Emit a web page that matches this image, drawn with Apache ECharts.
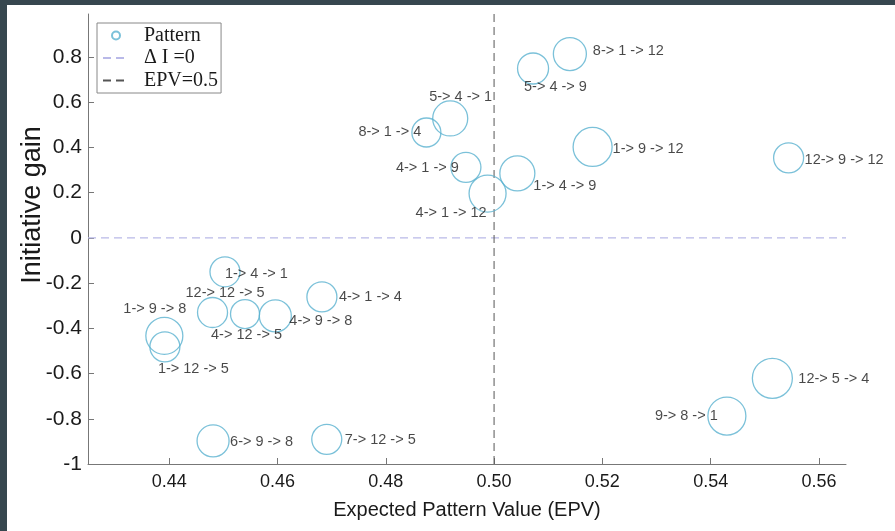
<!DOCTYPE html>
<html><head><meta charset="utf-8">
<script src="https://cdn.jsdelivr.net/npm/echarts@6/dist/echarts.min.js"></script>
<style>
html,body{margin:0;padding:0;background:#37474f;width:895px;height:531px;overflow:hidden}
#c{position:absolute;left:7px;top:5px;width:888px;height:526px;background:#fff}
</style></head><body><div id="c"></div>
<script>
// ---- data ----
const patterns = ['8-> 1 -> 12','5-> 4 -> 9','5-> 4 -> 1','8-> 1 -> 4','4-> 1 -> 9','4-> 1 -> 12','1-> 4 -> 9','1-> 9 -> 12','12-> 9 -> 12','1-> 4 -> 1','12-> 12 -> 5','4-> 12 -> 5','4-> 9 -> 8','4-> 1 -> 4','1-> 9 -> 8','1-> 12 -> 5','6-> 9 -> 8','7-> 12 -> 5','9-> 8 -> 1','12-> 5 -> 4'];
const epv  = [0.5140,0.5072,0.4919,0.4875,0.4948,0.4988,0.5043,0.5182,0.5544,0.4503,0.4480,0.4540,0.4596,0.4682,0.4391,0.4392,0.4481,0.4691,0.5430,0.5514];
const gain = [0.813,0.749,0.528,0.466,0.312,0.196,0.285,0.402,0.354,-0.150,-0.330,-0.337,-0.345,-0.261,-0.433,-0.482,-0.898,-0.891,-0.788,-0.621];
const bubble = [33,31,35,29,30,37,35,39,30,30,30,29,32,30,37,30,32,30,38,40];
const xTicks = [0.44,0.46,0.48,0.50,0.52,0.54,0.56];
const yTicks = [-1,-0.8,-0.6,-0.4,-0.2,0,0.2,0.4,0.6,0.8];
const zeroGain = 0;
const epvRef = 0.5;

// ---- label placement (layout only) ----
const labelOffsets = [[23,-3],[-9,19],[-21,-21],[-68,0],[-70,1],[-72,19],[16,13],[20,2],[16,2],[0,2],[-27,-19],[-34,21],[14,5],[17,0],[-41,-27],[-7,22],[17,1],[18,1],[-72,0],[26,1]];

const X_MIN = 0.425, X_MAX = 0.565, Y_MIN = -1, Y_MAX = 0.99;

const scatterData = patterns.map((p, i) => ({
  name: p,
  value: [epv[i], gain[i], bubble[i]],
  label: { offset: labelOffsets[i] }
}));

const chart = echarts.init(document.getElementById('c'), null, {renderer: 'canvas'});
const fontSans = 'Liberation Sans, Arial, Helvetica, sans-serif';
chart.setOption({
  animation: false,
  backgroundColor: '#fff',
  grid: { left: 81, top: 9, right: 49, bottom: 67, containLabel: false, outerBoundsMode: 'none' },
  legend: {
    left: 90, top: 18, orient: 'vertical',
    itemWidth: 26, itemHeight: 8, itemGap: 2.5,
    padding: [2.5, 3, 2.5, 5],
    borderColor: '#888', borderWidth: 1, backgroundColor: '#fff',
    textStyle: { fontFamily: 'Liberation Serif, DejaVu Serif, serif', fontSize: 20, color: '#1a1a1a', padding: [0,0,0,10] },
    data: ['Pattern', 'Δ I =0', 'EPV=0.5']
  },
  xAxis: {
    type: 'value', min: X_MIN, max: X_MAX,
    axisLine: { show: true, onZero: false, lineStyle: { color: '#777', width: 1 } },
    axisTick: { show: true, inside: true, length: 6, customValues: xTicks, lineStyle: { color: '#777' } },
    axisLabel: { customValues: xTicks, formatter: v => v.toFixed(2), fontSize: 18, color: '#1a1a1a', fontFamily: fontSans, margin: 9 },
    splitLine: { show: false },
    name: 'Expected Pattern Value (EPV)', nameLocation: 'middle', nameGap: 36, nameMoveOverlap: false,
    nameTextStyle: { fontSize: 20, color: '#1a1a1a', fontFamily: fontSans }
  },
  yAxis: {
    type: 'value', min: Y_MIN, max: Y_MAX,
    axisLine: { show: true, onZero: false, lineStyle: { color: '#777', width: 1 } },
    axisTick: { show: true, inside: true, length: 6, customValues: yTicks, lineStyle: { color: '#777' } },
    axisLabel: { customValues: yTicks, formatter: v => String(Math.round(v * 10) / 10), fontSize: 21, color: '#1a1a1a', fontFamily: fontSans, margin: 6 },
    splitLine: { show: false },
    name: 'Initiative gain', nameLocation: 'middle', nameGap: 42, nameMoveOverlap: false,
    nameTextStyle: { fontSize: 27, color: '#1a1a1a', fontFamily: fontSans, padding: [0, 0, 0, 68] }
  },
  series: [
    {
      name: 'Δ I =0', type: 'line', symbol: 'none', silent: true, z: 1,
      data: [[X_MIN, zeroGain], [X_MAX, zeroGain]],
      itemStyle: { color: 'rgba(0,0,0,0)', borderWidth: 0 },
      lineStyle: { color: '#b9b9e8', width: 1.3, type: [8, 5] }
    },
    {
      name: 'EPV=0.5', type: 'line', symbol: 'none', silent: true, z: 1,
      data: [[epvRef, Y_MIN], [epvRef, Y_MAX]],
      itemStyle: { color: 'rgba(0,0,0,0)', borderWidth: 0 },
      lineStyle: { color: '#555', width: 1, type: [8, 5] }
    },
    {
      name: 'Pattern', type: 'scatter', z: 3,
      symbol: 'circle',
      symbolSize: v => v[2],
      data: scatterData,
      itemStyle: { color: 'rgba(255,255,255,0)', borderColor: '#5ab2cf', borderWidth: 1.3 },
      label: {
        show: true, position: 'inside', align: 'left', verticalAlign: 'middle',
        formatter: p => p.name, fontSize: 14.5, color: '#1a1a1a', fontFamily: fontSans
      },
      emphasis: { disabled: true }
    }
  ]
});
</script></body></html>
